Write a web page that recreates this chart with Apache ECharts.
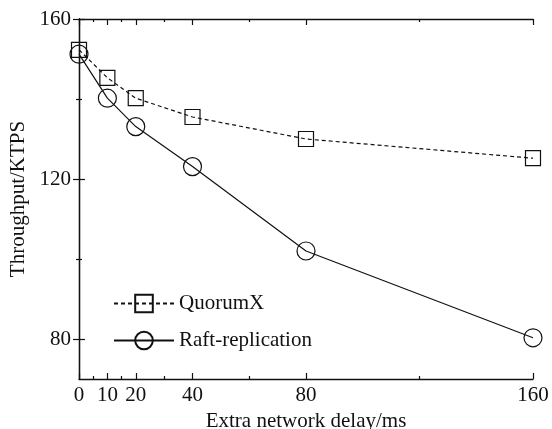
<!DOCTYPE html>
<html>
<head>
<meta charset="utf-8">
<script src="https://cdn.jsdelivr.net/npm/echarts@6/dist/echarts.min.js"></script>
<style>html,body{margin:0;padding:0;background:#fff;}#c{width:552px;height:429px;}</style>
</head>
<body>
<div id="c"></div>
<script>
const delays = [0, 10, 20, 40, 80, 160];
const quorumX = [152.3, 145.3, 140.2, 135.5, 130.0, 125.2];
const raft = [151.2, 140.2, 133.1, 123.1, 102.0, 80.3];
const xLabelTicks = [0, 10, 20, 40, 80, 160];
const xMinorTicks = [5, 15, 30, 60, 120];
const yLabelTicks = [80, 120, 160];
const yMinorTicks = [100, 140];

const FONT = 'Liberation Serif';
const INK = '#111';

function xAx(pos, ticks, len, showLine, showLabel, name) {
  return {
    type: 'value', position: pos, min: 0, max: 160,
    name: name || '', nameLocation: 'middle', nameGap: 28,
    nameTextStyle: { fontFamily: FONT, fontSize: 21, color: INK },
    axisLine: { show: showLine, lineStyle: { color: INK, width: 1.3 } },
    axisTick: { show: true, inside: true, length: len, customValues: ticks, lineStyle: { color: INK, width: 1.2 } },
    axisLabel: { show: showLabel, customValues: ticks, margin: 6, fontFamily: FONT, fontSize: 21, color: INK },
    splitLine: { show: false }
  };
}
function yAx(pos, ticks, len, showLine, showLabel, name) {
  return {
    type: 'value', position: pos, min: 70, max: 160,
    name: name || '', nameLocation: 'middle', nameGap: 49,
    nameTextStyle: { fontFamily: FONT, fontSize: 21, color: INK },
    axisLine: { show: showLine, lineStyle: { color: INK, width: 1.3 } },
    axisTick: { show: true, inside: true, length: len, customValues: ticks, lineStyle: { color: INK, width: 1.2 } },
    axisLabel: { show: showLabel, customValues: ticks, margin: 8, fontFamily: FONT, fontSize: 21, color: INK },
    splitLine: { show: false }
  };
}

const chart = echarts.init(document.getElementById('c'), null, { renderer: 'canvas' });
chart.setOption({
  backgroundColor: '#fff',
  animation: false,
  grid: { left: 79, right: 19, top: 19, bottom: 50, containLabel: false, outerBoundsMode: 'none' },
  xAxis: [
    xAx('bottom', xLabelTicks, 6, true, true, 'Extra network delay/ms'),
    xAx('bottom', xMinorTicks, 3, false, false),
    xAx('top', xLabelTicks, 6, true, false),
    xAx('top', xMinorTicks, 3, false, false)
  ],
  yAxis: [
    yAx('left', yLabelTicks, 6, true, true, 'Throughput/KTPS'),
    yAx('left', yMinorTicks, 3, false, false),
    yAx('right', yLabelTicks, 6, true, false),
    yAx('right', yMinorTicks, 3, false, false)
  ],
  legend: {
    orient: 'vertical', left: 108, top: 288,
    itemWidth: 60, itemHeight: 22, itemGap: 16,
    textStyle: { fontFamily: FONT, fontSize: 21, color: INK, padding: [0, 0, 0, 0] },
    data: ['QuorumX', 'Raft-replication']
  },
  series: [
    {
      name: 'QuorumX', type: 'line', xAxisIndex: 0, yAxisIndex: 0,
      data: delays.map((d, i) => [d, quorumX[i]]),
      symbol: 'rect', symbolSize: 15,
      lineStyle: { color: INK, width: 1.2, type: [4, 3] },
      itemStyle: { color: 'rgba(0,0,0,0)', borderColor: INK, borderWidth: 1.2 }
    },
    {
      name: 'Raft-replication', type: 'line', xAxisIndex: 0, yAxisIndex: 0,
      data: delays.map((d, i) => [d, raft[i]]),
      symbol: 'circle', symbolSize: 18,
      lineStyle: { color: INK, width: 1.2, type: 'solid' },
      itemStyle: { color: 'rgba(0,0,0,0)', borderColor: INK, borderWidth: 1.2 }
    }
  ]
});
</script>
</body>
</html>
